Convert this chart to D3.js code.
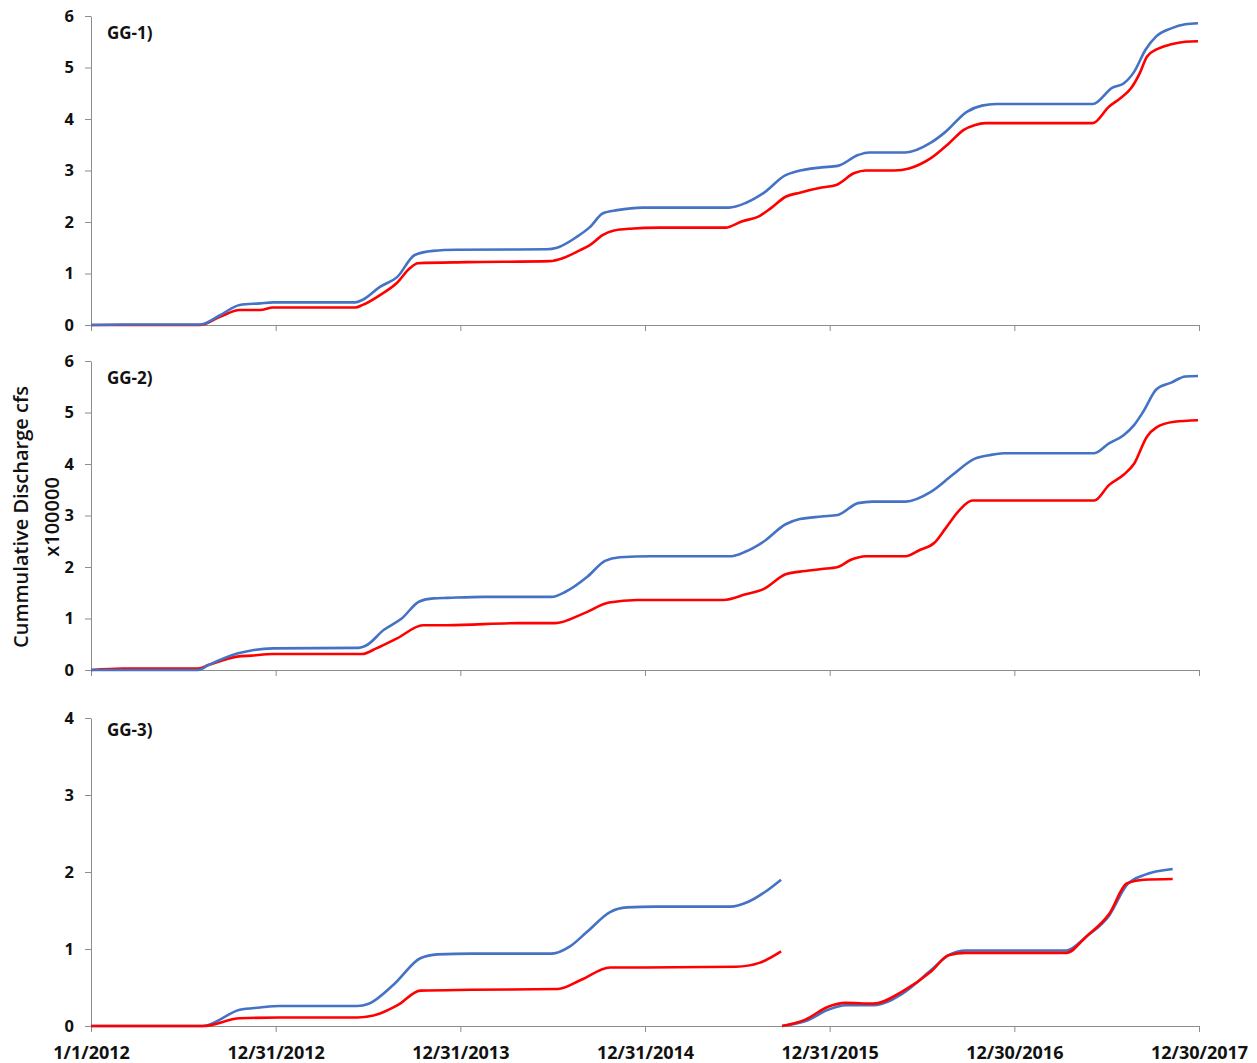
<!DOCTYPE html>
<html>
<head>
<meta charset="utf-8">
<script src="https://cdn.jsdelivr.net/npm/d3@7"></script>
<style>
  html, body { margin: 0; padding: 0; background: #fff; }
  svg { display: block; }
  .tick-label { font-family: "Open Sans", "Liberation Sans", sans-serif; font-weight: 700; fill: #111; }
</style>
</head>
<body>
<svg id="chart" width="1257" height="1063"></svg>
<script>
// Axis tick labels
const xTickLabels = ["1/1/2012", "12/31/2012", "12/31/2013", "12/31/2014", "12/31/2015", "12/30/2016", "12/30/2017"];
const yTicksSix = [0, 1, 2, 3, 4, 5, 6];
const yTicksFour = [0, 1, 2, 3, 4];
const panelNames = ["GG-1)", "GG-2)", "GG-3)"];

// Cumulative discharge (x100000 cfs), [date, value]
const gg1Blue = [
  ["2012-01-01",0],["2012-03-04",0.01],["2012-08-03",0.01],["2012-09-12",0.19],["2012-10-21",0.39],
  ["2012-11-30",0.42],["2012-12-26",0.44],["2013-06-06",0.44],["2013-06-21",0.49],["2013-07-25",0.74],
  ["2013-08-28",0.93],["2013-10-02",1.36],["2013-11-07",1.44],["2013-12-24",1.46],["2014-06-20",1.47],
  ["2014-07-10",1.50],["2014-08-18",1.71],["2014-09-13",1.90],["2014-10-09",2.17],["2014-11-06",2.23],
  ["2014-12-27",2.28],["2015-06-15",2.28],["2015-07-18",2.37],["2015-08-22",2.56],["2015-10-05",2.91],
  ["2015-10-26",2.98],["2015-12-15",3.06],["2016-01-16",3.09],["2016-02-25",3.30],["2016-03-18",3.35],
  ["2016-05-29",3.35],["2016-07-18",3.54],["2016-08-16",3.75],["2016-09-27",4.14],["2016-10-27",4.26],
  ["2016-11-24",4.29],["2017-06-03",4.29],["2017-07-12",4.61],["2017-08-03",4.69],["2017-08-24",4.92],
  ["2017-09-15",5.34],["2017-10-07",5.61],["2017-11-05",5.76],["2017-12-03",5.84],["2017-12-28",5.86]
];
const gg1Red = [
  ["2012-01-01",0],["2012-08-03",0],["2012-09-12",0.16],["2012-10-21",0.29],["2012-11-30",0.29],
  ["2012-12-26",0.34],["2013-06-06",0.34],["2013-06-21",0.39],["2013-07-25",0.58],["2013-08-28",0.82],
  ["2013-09-22",1.10],["2013-10-08",1.20],["2014-01-13",1.22],["2014-06-26",1.24],["2014-07-22",1.30],
  ["2014-08-24",1.45],["2014-09-13",1.55],["2014-10-09",1.75],["2014-10-29",1.83],["2014-12-01",1.87],
  ["2015-01-30",1.89],["2015-06-08",1.89],["2015-07-10",2.01],["2015-08-15",2.12],["2015-09-06",2.27],
  ["2015-10-05",2.49],["2015-11-02",2.57],["2015-12-15",2.67],["2016-01-13",2.72],["2016-02-18",2.95],
  ["2016-03-11",3.00],["2016-05-07",3.00],["2016-06-05",3.04],["2016-07-18",3.24],["2016-08-23",3.53],
  ["2016-09-21",3.79],["2016-10-12",3.88],["2016-11-03",3.92],["2017-06-03",3.92],["2017-07-05",4.24],
  ["2017-07-27",4.40],["2017-08-18",4.60],["2017-09-04",4.89],["2017-09-18",5.21],["2017-10-07",5.35],
  ["2017-11-05",5.45],["2017-12-03",5.50],["2017-12-28",5.51]
];
const gg2Blue = [
  ["2012-01-01",0],["2012-07-31",0],["2012-08-21",0.10],["2012-10-16",0.32],["2012-11-13",0.38],
  ["2012-12-26",0.42],["2013-06-13",0.43],["2013-06-27",0.47],["2013-08-02",0.78],["2013-09-06",1.00],
  ["2013-10-11",1.33],["2013-11-08",1.39],["2013-12-06",1.40],["2014-02-15",1.42],["2014-06-29",1.42],
  ["2014-07-27",1.52],["2014-09-08",1.81],["2014-10-13",2.12],["2014-11-11",2.19],["2015-01-12",2.21],
  ["2015-06-19",2.21],["2015-07-18",2.30],["2015-08-22",2.49],["2015-10-05",2.83],["2015-11-02",2.93],
  ["2015-12-15",2.98],["2016-01-16",3.01],["2016-02-25",3.24],["2016-03-25",3.27],["2016-05-29",3.27],
  ["2016-07-18",3.46],["2016-08-30",3.79],["2016-10-12",4.10],["2016-11-10",4.17],["2016-12-09",4.21],
  ["2017-06-06",4.21],["2017-07-05",4.40],["2017-08-03",4.56],["2017-08-24",4.76],["2017-09-11",5.02],
  ["2017-10-07",5.45],["2017-11-05",5.58],["2017-12-03",5.70],["2017-12-28",5.71]
];
const gg2Red = [
  ["2012-01-01",0],["2012-03-04",0.03],["2012-07-31",0.03],["2012-08-21",0.10],["2012-10-16",0.26],
  ["2012-11-13",0.28],["2012-12-26",0.31],["2013-06-20",0.31],["2013-07-18",0.42],["2013-08-29",0.62],
  ["2013-10-18",0.87],["2013-12-06",0.87],["2014-04-27",0.91],["2014-07-06",0.91],["2014-09-01",1.10],
  ["2014-10-21",1.31],["2014-12-16",1.36],["2015-06-04",1.36],["2015-07-18",1.47],["2015-08-22",1.57],
  ["2015-10-05",1.86],["2015-11-02",1.91],["2015-12-15",1.96],["2016-01-16",2.00],["2016-02-11",2.14],
  ["2016-03-11",2.21],["2016-05-29",2.21],["2016-06-26",2.33],["2016-07-25",2.47],["2016-08-16",2.75],
  ["2016-09-13",3.11],["2016-10-08",3.29],["2017-06-06",3.29],["2017-07-05",3.59],["2017-08-03",3.79],
  ["2017-08-24",4.01],["2017-09-18",4.53],["2017-10-07",4.71],["2017-11-11",4.82],["2017-12-28",4.85]
];
// GG-3 has a data gap in late September 2015 (null marks the break)
const gg3Blue = [
  ["2012-01-01",0],["2012-08-09",0],["2012-10-21",0.21],["2012-11-30",0.24],["2013-01-08",0.26],
  ["2013-06-10",0.26],["2013-07-03",0.29],["2013-08-23",0.55],["2013-10-13",0.88],["2013-11-16",0.93],
  ["2014-01-23",0.94],["2014-06-30",0.94],["2014-08-04",1.03],["2014-09-07",1.22],["2014-10-23",1.48],
  ["2014-11-25",1.54],["2015-01-22",1.55],["2015-06-18",1.55],["2015-07-22",1.61],["2015-08-25",1.74],
  ["2015-09-26",1.90],["2015-09-27",null],
  ["2015-09-28",0],["2015-11-12",0.06],["2015-12-28",0.21],["2016-01-31",0.27],["2016-03-27",0.27],
  ["2016-05-23",0.42],["2016-07-19",0.73],["2016-08-22",0.92],["2016-09-25",0.98],["2017-04-12",0.98],
  ["2017-05-21",1.16],["2017-07-06",1.44],["2017-08-09",1.83],["2017-09-12",1.96],["2017-11-08",2.04]
];
const gg3Red = [
  ["2012-01-01",0],["2012-08-09",0],["2012-10-21",0.10],["2013-01-08",0.11],["2013-06-10",0.11],
  ["2013-07-24",0.16],["2013-08-29",0.27],["2013-10-13",0.46],["2014-01-23",0.47],["2014-07-12",0.48],
  ["2014-08-27",0.60],["2014-10-23",0.76],["2014-12-30",0.76],["2015-06-29",0.77],["2015-08-14",0.82],
  ["2015-09-26",0.97],["2015-09-27",null],
  ["2015-09-28",0],["2015-11-12",0.08],["2015-12-28",0.25],["2016-01-31",0.30],["2016-03-27",0.29],
  ["2016-05-23",0.45],["2016-07-19",0.71],["2016-08-22",0.92],["2016-09-25",0.95],["2017-04-12",0.95],
  ["2017-05-21",1.16],["2017-07-06",1.46],["2017-08-09",1.85],["2017-09-12",1.90],["2017-11-08",1.91]
];

const BLUE = "#4472c4";
const RED = "#ff0000";
const AXIS = "#8c8c8c";

const parseISO = d3.timeParse("%Y-%m-%d");
const parseMDY = d3.timeParse("%m/%d/%Y");
const tickDates = xTickLabels.map(parseMDY);

const svg = d3.select("#chart");

const x = d3.scaleTime()
  .domain([tickDates[0], tickDates[tickDates.length - 1]])
  .range([91, 1199]);

// drawing order: later entries sit on top
const panels = [
  { name: panelNames[0], top: 16, bottom: 325, ticks: yTicksSix, series: [[gg1Red, RED], [gg1Blue, BLUE]], showX: false, labelY: 39 },
  { name: panelNames[1], top: 361, bottom: 670, ticks: yTicksSix, series: [[gg2Red, RED], [gg2Blue, BLUE]], showX: false, labelY: 384 },
  { name: panelNames[2], top: 718, bottom: 1026, ticks: yTicksFour, series: [[gg3Blue, BLUE], [gg3Red, RED]], showX: true, labelY: 736 }
];

panels.forEach(p => {
  const g = svg.append("g");
  const y = d3.scaleLinear()
    .domain([0, d3.max(p.ticks)])
    .range([p.bottom, p.top]);

  // y axis
  const yAxis = g.append("g")
    .attr("transform", `translate(${x.range()[0]},0)`)
    .call(d3.axisLeft(y).tickValues(p.ticks).tickFormat(d3.format("d")).tickSize(6).tickSizeOuter(0).tickPadding(11));
  yAxis.select(".domain").attr("stroke", AXIS);
  yAxis.selectAll(".tick line").attr("stroke", AXIS);
  yAxis.selectAll(".tick text").attr("class", "tick-label").style("font-size", "16.5px");

  // x axis
  const xAxis = g.append("g")
    .attr("transform", `translate(0,${p.bottom})`)
    .call(d3.axisBottom(x).tickValues(tickDates)
      .tickFormat((d, i) => p.showX ? xTickLabels[i] : "")
      .tickSize(6).tickSizeOuter(0).tickPadding(10));
  xAxis.select(".domain").attr("stroke", AXIS);
  xAxis.selectAll(".tick line").attr("stroke", AXIS);
  xAxis.selectAll(".tick text").attr("class", "tick-label").style("font-size", "18px").attr("dy", "0.95em");

  // series lines
  const line = d3.line()
    .defined(d => d[1] !== null)
    .x(d => x(parseISO(d[0])))
    .y(d => y(d[1]))
    .curve(d3.curveMonotoneX);

  p.series.forEach(([data, color]) => {
    g.append("path")
      .datum(data)
      .attr("fill", "none")
      .attr("stroke", color)
      .attr("stroke-width", 2.6)
      .attr("stroke-linejoin", "round")
      .attr("d", line);
  });

  // panel label
  g.append("text")
    .attr("x", 107)
    .attr("y", p.labelY)
    .attr("class", "tick-label")
    .style("font-size", "17px")
    .text(p.name);
});

// shared y-axis title
const title = svg.append("text")
  .attr("transform", "translate(0,517) rotate(-90)")
  .attr("text-anchor", "middle")
  .style("font-family", "'Open Sans', 'Liberation Sans', sans-serif")
  .style("font-size", "20px")
  .style("font-weight", 600)
  .style("fill", "#111");
title.append("tspan").attr("x", 0).attr("y", 28).text("Cummulative Discharge cfs");
title.append("tspan").attr("x", 0).attr("y", 59).text("x100000");
</script>
</body>
</html>
